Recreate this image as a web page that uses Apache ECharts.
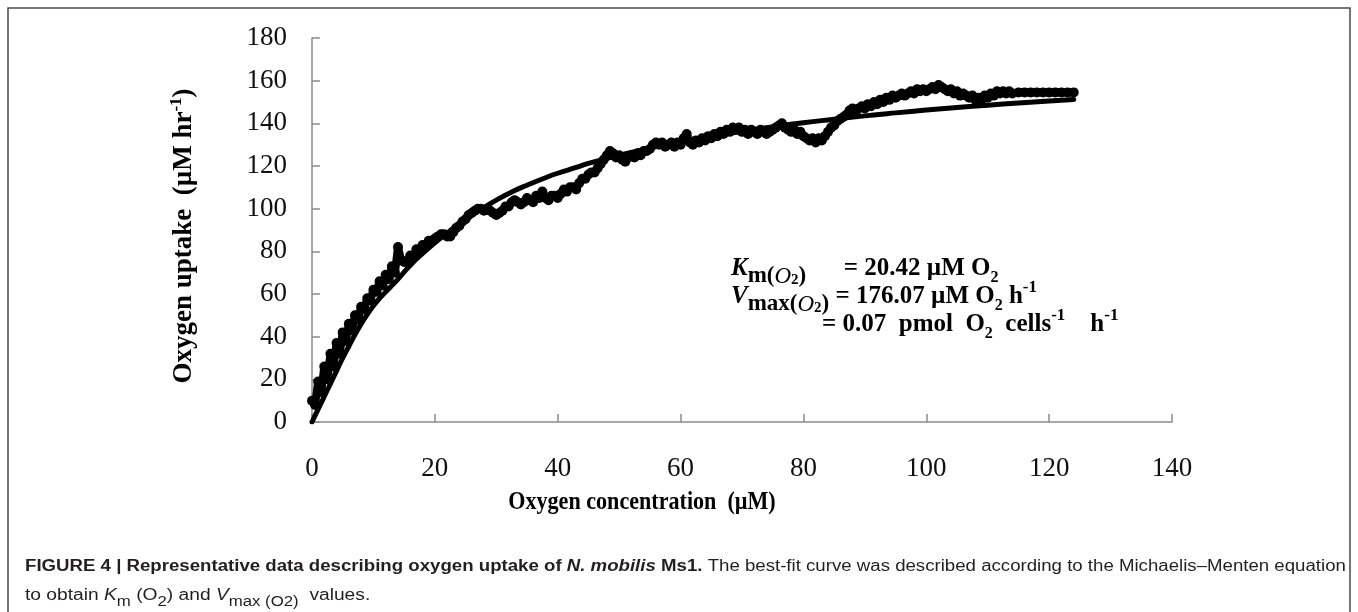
<!DOCTYPE html>
<html>
<head>
<meta charset="utf-8">
<script src="https://cdn.jsdelivr.net/npm/echarts@6/dist/echarts.min.js"></script>
<style>html,body{margin:0;padding:0;background:#fff;}#chart{width:1358px;height:612px;}</style>
</head>
<body>
<div id="chart"></div>
<script>
// Measured oxygen uptake (µM hr-1) vs oxygen concentration (µM)
var concMeasured = [0,0.5,1,1.5,2,2.5,3,3.5,4,4.5,5,5.5,6,6.5,7,7.5,8,8.5,9,9.5,10,10.5,11,11.5,12,12.5,13,13.5,14,14.5,15,15.5,16,16.5,17,17.5,18,18.5,19,19.5,20,20.5,21,21.5,22,22.5,23,23.5,24,24.5,25,25.5,26,26.5,27,27.5,28,28.5,29,29.5,30,30.5,31,31.5,32,32.5,33,33.5,34,34.5,35,35.5,36,36.5,37,37.5,38,38.5,39,39.5,40,40.5,41,41.5,42,42.5,43,43.5,44,44.5,45,45.5,46,46.5,47,47.5,48,48.5,49,49.5,50,50.5,51,51.5,52,52.5,53,53.5,54,54.5,55,55.5,56,56.5,57,57.5,58,58.5,59,59.5,60,60.5,61,61.5,62,62.5,63,63.5,64,64.5,65,65.5,66,66.5,67,67.5,68,68.5,69,69.5,70,70.5,71,71.5,72,72.5,73,73.5,74,74.5,75,75.5,76,76.5,77,77.5,78,78.5,79,79.5,80,80.5,81,81.5,82,82.5,83,83.5,84,84.5,85,85.5,86,86.5,87,87.5,88,88.5,89,89.5,90,90.5,91,91.5,92,92.5,93,93.5,94,94.5,95,95.5,96,96.5,97,97.5,98,98.5,99,99.5,100,100.5,101,101.5,102,102.5,103,103.5,104,104.5,105,105.5,106,106.5,107,107.5,108,108.5,109,109.5,110,110.5,111,111.5,112,112.5,113,113.5,114,115,116,117,118,119,120,121,122,123,124];
var uptakeMeasured = [10,8,19,14,26,20,32,26,37,32,42,38,46,43,50,48,54,53,58,57,62,61,66,64,69,67,73,70,82,76,75,75,78,77,81,80,83,83,85,85,86,87,88,88,87,87,89,91,92,94,95,97,98,99,100,100,99,100,99,98,97,98,99,101,101,103,104,103,102,103,105,104,103,106,105,108,105,104,106,106,105,107,109,108,110,110,109,112,114,114,116,117,117,119,121,123,125,127,126,124,125,123,122,124,125,124,126,125,127,127,128,130,131,130,131,129,130,131,129,131,130,133,135,131,130,132,131,133,132,134,133,135,134,136,135,137,136,138,137,138,136,137,135,137,136,135,137,136,135,136,137,138,139,140,138,137,136,137,135,136,134,133,132,133,131,133,132,134,136,138,139,141,142,143,144,146,147,145,147,148,147,149,148,150,149,151,150,152,151,153,152,153,154,153,154,155,154,156,155,156,155,156,157,156,158,157,156,155,156,154,155,153,154,153,152,153,151,152,151,153,152,154,153,155,154,155,154,155,154,154.5,154.5,154.5,154.5,154.5,154.5,154.5,154.5,154.5,154.5];
// Best-fit (Michaelis-Menten) curve
var concFit = [0,1,2,3,4,5,6,7,8,9,10,11,12,13,14,16,18,20,22,25,28,30,33,35,38,40,43,45,50,55,60,65,70,75,80,85,90,95,100,105,110,115,120,124];
var uptakeFit = [0,6,12,18,24,30,35.5,41,46,50.5,54.5,58,61,64,67,73.5,79,84,88.5,95.5,100.5,104,108.5,111,114.5,116.6,119.3,121.2,125.0,128.4,131.4,133.9,136.3,138.4,140.3,141.9,143.5,144.9,146.2,147.4,148.5,149.5,150.5,151.2];
var xTicks = [0,20,40,60,80,100,120,140];
var yTicks = [0,20,40,60,80,100,120,140,160,180];

var measured = concMeasured.map(function(x,i){return [x, uptakeMeasured[i]];});
var fit = concFit.map(function(x,i){return [x, uptakeFit[i]];});

var serif = '"Liberation Serif", "Times New Roman", serif';
var sans = '"Liberation Sans", Arial, Helvetica, sans-serif';
var axisGray = '#8a8a8a';

var chart = echarts.init(document.getElementById('chart'), null, {renderer:'canvas'});

function annRich() {
  var base = {fontFamily: serif, fontWeight:'bold', fill:'#000', verticalAlign:'bottom'};
  return {
    n: Object.assign({}, base, {fontSize:25, padding:[0,0,7,0]}),
    ni: Object.assign({}, base, {fontSize:25, fontStyle:'italic', padding:[0,0,7,0]}),
    s: Object.assign({}, base, {fontSize:23, padding:[0,0,0,0]}),
    s2: Object.assign({}, base, {fontSize:16, padding:[0,0,2,0]}),
    si: Object.assign({}, base, {fontSize:23, fontStyle:'italic', fontWeight:'normal', padding:[0,0,0,0]}),
    ss: Object.assign({}, base, {fontSize:15, padding:[0,0,0,0]}),
    sup: Object.assign({}, base, {fontSize:17, padding:[0,0,20,0]})
  };
}
function capRich() {
  var base = {fontFamily: sans, fontSize:16, fill:'#231f20', verticalAlign:'bottom'};
  return {
    b: Object.assign({}, base, {fontWeight:'bold', padding:[0,0,5,0]}),
    bi: Object.assign({}, base, {fontWeight:'bold', fontStyle:'italic', padding:[0,0,5,0]}),
    n: Object.assign({}, base, {padding:[0,0,5,0]}),
    i: Object.assign({}, base, {fontStyle:'italic', padding:[0,0,5,0]}),
    s: Object.assign({}, base, {fontSize:14, padding:[0,0,0,0]})
  };
}

var option = {
  animation: false,
  backgroundColor: '#ffffff',
  grid: {left:312, right:186, top:38, bottom:190, containLabel:false},
  xAxis: {
    type:'value', min:0, max:140, interval:20,
    axisLine:{show:true, onZero:false, lineStyle:{color:axisGray, width:1.5}},
    axisTick:{show:true, inside:true, length:8, lineStyle:{color:axisGray, width:1.5}},
    splitLine:{show:false},
    axisLabel:{fontFamily:serif, fontSize:27, color:'#111', margin:33,
      formatter: function(v){return xTicks.indexOf(v) >= 0 ? String(v) : '';}}
  },
  yAxis: {
    type:'value', min:0, max:180, interval:20,
    axisLine:{show:true, onZero:false, lineStyle:{color:axisGray, width:1.5}},
    axisTick:{show:true, inside:true, length:8, lineStyle:{color:axisGray, width:1.5}},
    splitLine:{show:false},
    axisLabel:{fontFamily:serif, fontSize:27, color:'#111', margin:25,
      formatter: function(v){return yTicks.indexOf(v) >= 0 ? String(v) : '';}}
  },
  series: [
    {
      type:'line', data: fit, smooth:true, showSymbol:false,
      lineStyle:{color:'#000', width:5, cap:'round', join:'round'}, z:2
    },
    {
      type:'line', data: measured, showSymbol:true, symbol:'circle', symbolSize:10,
      itemStyle:{color:'#000'},
      lineStyle:{color:'#000', width:8, cap:'round', join:'round'}, z:3
    }
  ],
  graphic: [
    {type:'rect', shape:{x:8, y:8, width:1342, height:700}, style:{fill:'none', stroke:'#4a4a4a', lineWidth:1.5}, silent:true},
    {type:'text', x:186, y:236, rotation:Math.PI/2, style:{
      text:'{t|Oxygen uptake  (µM hr}{p|-1}{t|)}',
      align:'center', verticalAlign:'middle',
      rich:{
        t:{fontFamily:serif, fontWeight:'bold', fontSize:27, fill:'#000', verticalAlign:'bottom', padding:[0,0,6,0]},
        p:{fontFamily:serif, fontWeight:'bold', fontSize:17, fill:'#000', verticalAlign:'bottom', padding:[0,0,18,0]}
      }}},
    {type:'text', x:642, y:502, scaleX:0.85, style:{
      text:'Oxygen concentration  (µM)', align:'center', verticalAlign:'middle',
      fontFamily:serif, fontWeight:'bold', fontSize:26, fill:'#000'}},
    {type:'text', x:731, y:288, style:{
      text:'{ni|K}{s|m(}{si|O}{ss|2}{s|)}{n|      = 20.42 µM O}{s2|2}',
      align:'left', verticalAlign:'bottom', rich: annRich()}},
    {type:'text', x:731, y:316, style:{
      text:'{ni|V}{s|max(}{si|O}{ss|2}{s|)}{n| = 176.07 µM O}{s2|2}{n| h}{sup|-1}',
      align:'left', verticalAlign:'bottom', rich: annRich()}},
    {type:'text', x:822, y:344, style:{
      text:'{n|= 0.07  pmol  O}{s2|2}{n|  cells}{sup|-1}{n|    h}{sup|-1}',
      align:'left', verticalAlign:'bottom', rich: annRich()}},
    {type:'text', x:25, y:580, scaleX:1.165, style:{
      text:'{b|FIGURE 4 | Representative data describing oxygen uptake of }{bi|N. mobilis}{b| Ms1.}{n| The best-fit curve was described according to the Michaelis–Menten equation}',
      align:'left', verticalAlign:'bottom', rich: capRich()}},
    {type:'text', x:25, y:609, scaleX:1.2, style:{
      text:'{n|to obtain }{i|K}{s|m}{n| (O}{s|2}{n|) and }{i|V}{s|max (O}{s|2}{s|)}{n|  values.}',
      align:'left', verticalAlign:'bottom', rich: capRich()}}
  ]
};
chart.setOption(option);
</script>
</body>
</html>
